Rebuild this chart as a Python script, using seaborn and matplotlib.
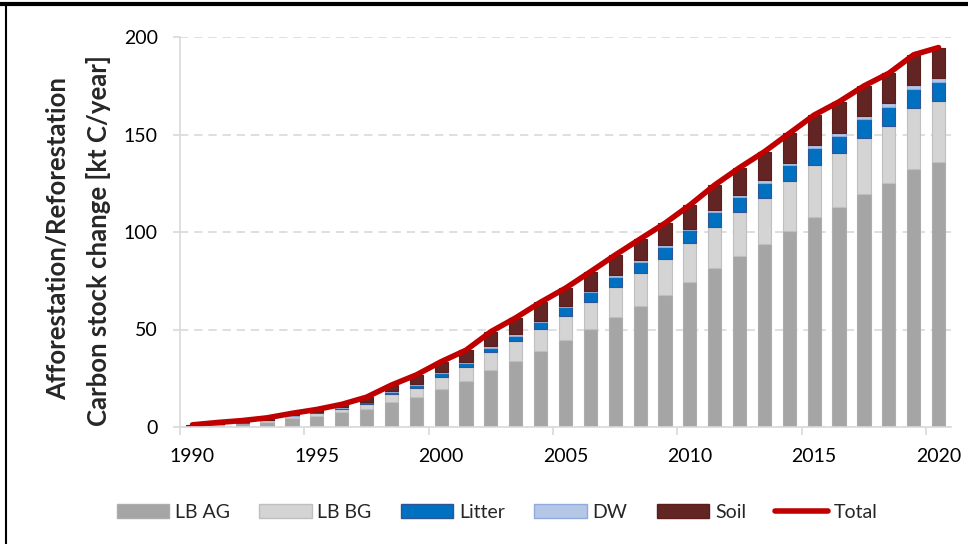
import numpy as np
import pandas as pd
import matplotlib
matplotlib.use('Agg')
import matplotlib.pyplot as plt
import matplotlib.patches as mpatches
from matplotlib.lines import Line2D
from matplotlib.ticker import FixedLocator
import seaborn as sns

years = list(range(1990, 2021))
lb_ag = [0.5, 1.2, 1.8, 2.8, 4.5, 5.8, 7.5, 9.4, 12.7, 15.4, 19.5, 23.4, 29.1, 34.0, 39.0, 44.6,
         50.3, 56.2, 62.0, 67.9, 74.4, 81.7, 87.8, 93.8, 100.7, 107.9, 113.0, 119.7, 125.0, 132.3, 135.7]
lb_bg = [0.1, 0.3, 0.4, 0.6, 0.9, 1.3, 1.7, 2.4, 4.2, 4.8, 6.3, 7.2, 9.2, 10.0, 11.3, 12.5,
         13.6, 15.4, 16.8, 18.1, 19.8, 21.0, 22.6, 23.8, 25.3, 26.6, 27.3, 28.7, 29.5, 31.3, 31.6]
litter = [0.05, 0.1, 0.2, 0.3, 0.4, 0.5, 0.8, 1.1, 1.2, 1.3, 1.7, 2.0, 2.4, 2.7, 3.3, 4.6,
          5.5, 5.5, 6.0, 6.5, 6.8, 7.7, 7.7, 7.7, 8.4, 8.4, 8.9, 9.4, 9.4, 9.6, 9.7]
dw = [0.02, 0.03, 0.05, 0.05, 0.1, 0.1, 0.1, 0.15, 0.2, 0.3, 0.5, 0.5, 0.7, 0.8, 1.0, 0.6,
      0.5, 0.7, 0.7, 0.7, 0.7, 0.9, 0.9, 1.4, 1.2, 1.5, 1.7, 1.5, 2.1, 2.1, 2.2]
soil = [0.4, 0.7, 0.9, 1.0, 1.1, 1.3, 1.5, 2.2, 3.2, 4.9, 5.5, 6.3, 7.5, 8.5, 9.4, 8.9,
        9.7, 10.4, 10.9, 11.3, 12.1, 12.8, 14.0, 14.5, 15.0, 15.6, 15.9, 15.6, 15.4, 15.6, 15.4]
total = [1.1, 2.3, 3.3, 4.7, 7.0, 9.0, 11.6, 15.3, 21.5, 26.7, 33.5, 39.4, 48.9, 56.0, 64.0, 71.2,
         79.6, 88.2, 96.4, 104.5, 113.8, 124.1, 133.0, 141.2, 150.6, 160.0, 166.8, 174.9, 181.4, 190.9, 194.6]

df = pd.DataFrame({'Year': years, 'LB AG': lb_ag, 'LB BG': lb_bg, 'Litter': litter,
                   'DW': dw, 'Soil': soil, 'Total': total})

components = ['LB AG', 'LB BG', 'Litter', 'DW', 'Soil']
face = {'LB AG': '#A5A5A5', 'LB BG': '#D4D4D4', 'Litter': '#0070C0', 'DW': '#B4C7E7', 'Soil': '#632523'}
edge = {'LB AG': '#ADADAD', 'LB BG': '#BFBFBF', 'Litter': '#2F5597', 'DW': '#8FAADC', 'Soil': '#5A1F1D'}
grid_col = '#D9D9D9'

sns.set_theme(style='white')
plt.rcParams['font.family'] = ['Lato', 'DejaVu Sans']

fig = plt.figure(figsize=(9.68, 5.44), dpi=100)
ax = fig.add_axes([180 / 968, 1 - 427 / 544, 771 / 968, 390 / 544])

# stacked bars, one layer per pool
bottom = np.zeros(len(years))
for c in components:
    sns.barplot(data=df, x='Year', y=c, native_scale=True, width=0.53, color=face[c],
                edgecolor=edge[c], linewidth=0.8, saturation=1, bottom=bottom, ax=ax)
    bottom = bottom + df[c].values

sns.lineplot(data=df, x='Year', y='Total', color='#C00000', linewidth=4,
             solid_capstyle='round', ax=ax)

ax.set_xlim(1989.5, 2020.5)
ax.set_ylim(0, 200)
ax.set_yticks([0, 50, 100, 150, 200])
ax.yaxis.grid(True, color=grid_col, linestyle=(0, (5, 3.5)), linewidth=1.2)
ax.xaxis.grid(False)
ax.set_axisbelow(True)
ax.xaxis.set_major_locator(FixedLocator(list(range(1990, 2021, 5))))
ax.xaxis.set_minor_locator(FixedLocator(list(np.arange(1989.5, 2020, 5))))
ax.tick_params(axis='x', which='major', length=0, pad=15, labelsize=14, labelcolor='black')
ax.tick_params(axis='x', which='minor', length=6, width=1.2, color=grid_col, bottom=True)
ax.tick_params(axis='y', length=5, width=1.2, color=grid_col, pad=11, labelsize=14,
               labelcolor='black', left=True)
for s in ['top', 'right']:
    ax.spines[s].set_visible(False)
for s in ['left', 'bottom']:
    ax.spines[s].set_color(grid_col)
    ax.spines[s].set_linewidth(1.2)
ax.set_xlabel('')
ax.set_ylabel('')

fig.text(58 / 968, 1 - 239 / 544, 'Afforestation/Reforestation', rotation=90,
         ha='center', va='center', fontsize=18.5, fontweight='bold')
fig.text(99 / 968, 1 - 241 / 544, 'Carbon stock change [kt C/year]', rotation=90,
         ha='center', va='center', fontsize=18.5, fontweight='bold')

handles = [mpatches.Patch(facecolor=face[c], edgecolor=edge[c], label=c) for c in components]
handles.append(Line2D([0], [0], color='#C00000', linewidth=4, solid_capstyle='round', label='Total'))
fig.legend(handles=handles, loc='center', bbox_to_anchor=(497 / 968, 1 - 512 / 544), ncol=6,
           frameon=False, fontsize=14, handlelength=2.7, handleheight=0.75,
           handletextpad=0.3, columnspacing=1.5)

fig.add_artist(Line2D([0, 1], [1 - 4 / 544, 1 - 4 / 544], transform=fig.transFigure,
                      color='black', linewidth=3))
fig.add_artist(Line2D([6 / 968, 6 / 968], [0, 1 - 4 / 544], transform=fig.transFigure,
                      color='black', linewidth=1.5))

fig.savefig('out.png', dpi=100)
